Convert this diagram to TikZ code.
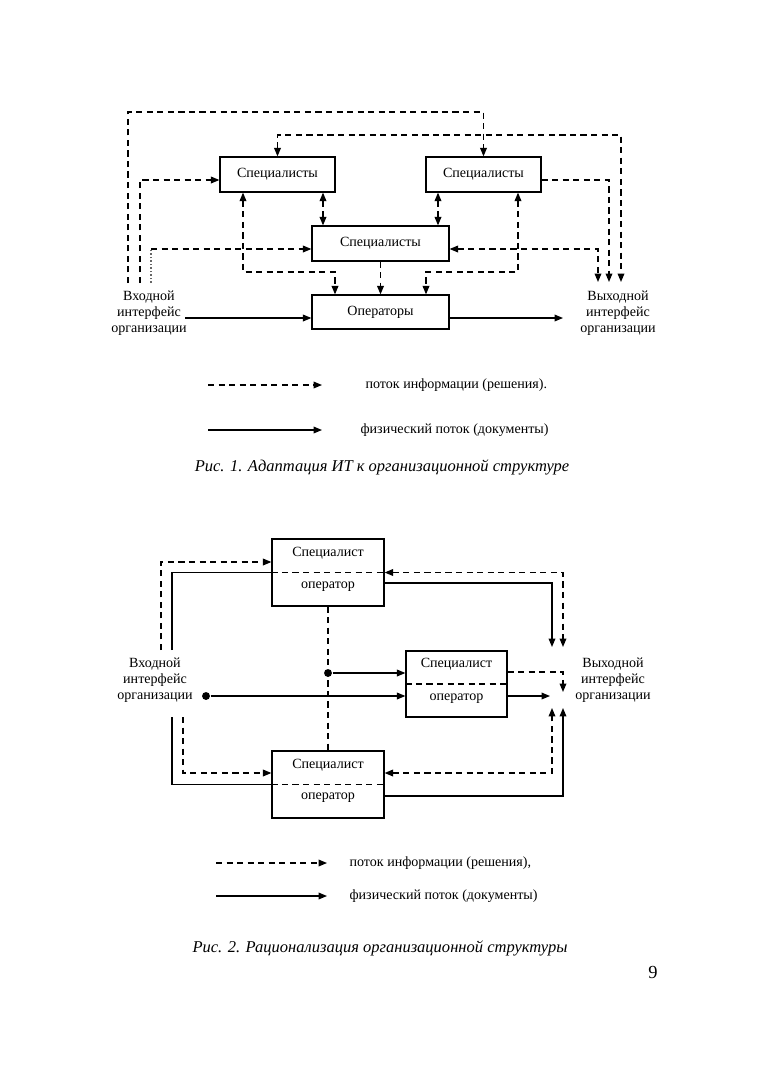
\documentclass[tikz,border=0pt]{standalone}
\usepackage{fontspec}
\setmainfont{Liberation Serif}
\usetikzlibrary{calc,positioning,arrows.meta}

\begin{document}
\begin{tikzpicture}[x=0.02cm, y=-0.02cm, line width=0.7pt,
  >={Triangle[length=4.8pt,width=3.8pt]},
  box/.style={draw, rectangle, inner sep=0pt, font=\fontsize{8}{9.2}\selectfont},
  txt/.style={inner sep=0pt, align=center, font=\fontsize{8}{9.2}\selectfont},
  figcap/.style={inner sep=0pt, font=\fontsize{9.4}{11}\selectfont\itshape},
  dashline/.style={dash pattern=on 3.5pt off 2.5pt},
  dotline/.style={dash pattern=on 1pt off 1pt, black!60},
  flow/.style={dashline, ->},
  flowtwo/.style={dashline, <->},
  doc/.style={->},
  dot/.style={circle, fill, inner sep=0pt, minimum size=4.5pt}]
  \useasboundingbox (0,0) rectangle (761,1080);

  % Рис. 1
  \node[box, minimum width=2.3cm, minimum height=0.7cm] (sp1) at (277.5,174.5) {Специалисты};
  \node[box, minimum width=2.3cm, minimum height=0.7cm] (sp2) at (483.5,174.5) {Специалисты};
  \node[box, minimum width=2.74cm, minimum height=0.7cm] (sp3) at (380.5,243.5) {Специалисты};
  \node[box, minimum width=2.74cm, minimum height=0.68cm] (op) at (380.5,312) {Операторы};
  \node[txt] (in1) at (149,313) {Входной\\интерфейс\\организации};
  \node[txt] (out1) at (618,313) {Выходной\\интерфейс\\организации};

  \coordinate (a1) at (128,283);
  \coordinate (a2) at (140,283);
  \coordinate (a3) at (151,283);
  \coordinate (k1) at (151,249);
  \coordinate (a4) at (185,318);
  \coordinate (b1) at (598,282);
  \coordinate (b2) at (609,282);
  \coordinate (b3) at (621,282);
  \coordinate (b4) at (563,318);

  \draw[flow] (a1) |- (sp2.north |- 0,112) -- (sp2.north);
  \draw[flowtwo] (sp1.north) -- (sp1.north |- 0,135) -| (b3);
  \draw[flow] (a2) |- (sp1.west |- 0,180);
  \draw[dotline] (a3) -- (k1);
  \draw[flow] (k1) -- (sp3.west |- k1);
  \draw[doc] (a4) -- (op.west |- a4);
  \draw[flowtwo] (sp1.south -| 323,0) -- (sp3.north -| 323,0);
  \draw[flowtwo] (sp1.south -| 243,0) |- (290,272) -| (op.north -| 335,0);
  \draw[flow] (sp3.south) -- (op.north);
  \draw[flowtwo] (sp2.south -| 438,0) -- (sp3.north -| 438,0);
  \draw[flowtwo] (sp2.south -| 518,0) |- (470,272) -| (op.north -| 426,0);
  \draw[flowtwo] (sp3.east |- k1) -| (b1);
  \draw[flow] (sp2.east |- 0,180) -| (b2);
  \draw[doc] (op.east |- b4) -- (b4);

  % легенда 1
  \coordinate (l1a) at (208,385);
  \coordinate (l1b) at (322,385);
  \coordinate (l2a) at (208,430);
  \coordinate (l2b) at (322,430);
  \draw[flow] (l1a) -- (l1b);
  \draw[doc] (l2a) -- (l2b);
  \node[txt, anchor=west] (l1) at (365,385) {поток информации (решения).};
  \node[txt, anchor=west] (l2) at (360,430) {физический поток (документы)};
  \node[figcap] (cap1) at (382,467) {Рис. 1. Адаптация ИТ к организационной структуре};

  % Рис. 2
  \node[box, minimum width=2.24cm, minimum height=1.34cm] (ao) at (328,572.5) {};
  \node[txt] (aot) at (328,553) {Специалист};
  \node[txt] (aob) at (328,587) {оператор};
  \node[box, minimum width=2.02cm, minimum height=1.32cm] (bo) at (456.5,684) {};
  \node[txt] (bot) at (456.5,664) {Специалист};
  \node[txt] (bob) at (456.5,699) {оператор};
  \node[box, minimum width=2.24cm, minimum height=1.34cm] (co) at (328,784.5) {};
  \node[txt] (cot) at (328,765) {Специалист};
  \node[txt] (cob) at (328,798) {оператор};
  \draw[dashline] (ao.west) -- (ao.east);
  \draw[dashline] (bo.west) -- (bo.east);
  \draw[dashline] (co.west) -- (co.east);
  \node[txt] (in2) at (155,680) {Входной\\интерфейс\\организации};
  \node[txt] (out2) at (613,680) {Выходной\\интерфейс\\организации};

  \node[dot] (d1) at (328,673) {};
  \node[dot] (d2) at (206,696) {};
  \coordinate (c1) at (161,650);
  \coordinate (c2) at (172,650);
  \coordinate (c3) at (183,717);
  \coordinate (c4) at (172,717);
  \coordinate (e1) at (563,647);
  \coordinate (e2) at (552,647);
  \coordinate (e3) at (563,692);
  \coordinate (e4) at (550,696);
  \coordinate (e5) at (552,708);
  \coordinate (e6) at (563,708);

  \draw[flow] (c1) |- (ao.west |- 0,562);
  \draw (c2) |- (ao.west);
  \draw[flowtwo] (ao.east) -| (e1);
  \draw[doc] (ao.east |- 0,583) -| (e2);
  \draw[dashline] (ao.south) -- (co.north);
  \draw[doc] (d1) -- (bo.west |- d1);
  \draw[doc] (d2) -- (bo.west |- d2);
  \draw[flow] (bo.east |- 0,672) -| (e3);
  \draw[doc] (bo.east |- e4) -- (e4);
  \draw[flowtwo] (co.east |- 0,773) -| (e5);
  \draw[doc] (co.east |- 0,796) -| (e6);
  \draw[flow] (c3) |- (co.west |- 0,773);
  \draw (c4) |- (co.west);

  % легенда 2
  \coordinate (m1a) at (216,863);
  \coordinate (m1b) at (327,863);
  \coordinate (m2a) at (216,896);
  \coordinate (m2b) at (327,896);
  \draw[flow] (m1a) -- (m1b);
  \draw[doc] (m2a) -- (m2b);
  \node[txt, anchor=west] (m1) at (349,863) {поток информации (решения),};
  \node[txt, anchor=west] (m2) at (349,896) {физический поток (документы)};
  \node[figcap] (cap2) at (380,948) {Рис. 2. Рационализация организационной структуры};
  \node[inner sep=0pt, font=\fontsize{10.5}{12}\selectfont] (pg) at (653,972) {9};
\end{tikzpicture}
\end{document}
